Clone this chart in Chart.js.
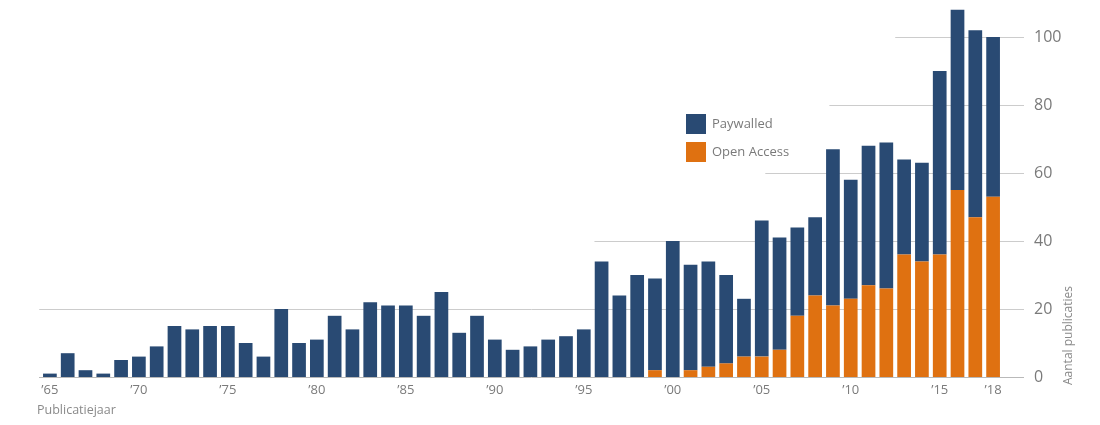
<!DOCTYPE html>
<html>
<head>
<meta charset="utf-8">
<script src="https://cdn.jsdelivr.net/npm/chart.js@4.4.1/dist/chart.umd.min.js"></script>
<style>
  html, body { margin: 0; padding: 0; background: #fff; }
  #wrap { width: 1100px; height: 425px; position: relative; }
</style>
</head>
<body>
<div id="wrap"><canvas id="chart"></canvas></div>
<script>
// --- data ---
const jaren = ['1965','1966','1967','1968','1969','1970','1971','1972','1973','1974',
  '1975','1976','1977','1978','1979','1980','1981','1982','1983','1984',
  '1985','1986','1987','1988','1989','1990','1991','1992','1993','1994',
  '1995','1996','1997','1998','1999','2000','2001','2002','2003','2004',
  '2005','2006','2007','2008','2009','2010','2011','2012','2013','2014',
  '2015','2016','2017','2018'];

const openAccess = [0,0,0,0,0,0,0,0,0,0,
  0,0,0,0,0,0,0,0,0,0,
  0,0,0,0,0,0,0,0,0,0,
  0,0,0,0,2,0,2,3,4,6,
  6,8,18,24,21,23,27,26,36,34,
  36,55,47,53];

const paywalled = [1,7,2,1,5,6,9,15,14,15,
  15,10,6,20,10,11,18,14,22,21,
  21,18,25,13,18,11,8,9,11,12,
  14,34,24,30,27,40,31,31,26,17,
  40,33,26,23,46,35,41,43,28,29,
  54,53,55,47];

const tickJaren = ['1965','1970','1975','1980','1985','1990','1995','2000','2005','2010','2015','2018'];
const tickLabels = ['\u201965','\u201970','\u201975','\u201980','\u201985','\u201990','\u201995','\u201900','\u201905','\u201910','\u201915','\u201918'];
const yTicks = [0, 20, 40, 60, 80, 100];

// --- stijl ---
const BLAUW = '#294a73';
const ORANJE = '#df7111';
const GRIJS = '#7a7a7a';
const FONT = "'Open Sans', sans-serif";
// waar elke rasterlijn links begint (fractionele index op de jaar-as)
const rasterStart = { 20: -0.6, 40: 30.6, 60: 40.2, 80: 43.8, 100: 47.5 };

const rasterPlugin = {
  id: 'raster',
  beforeDatasetsDraw(chart) {
    const { ctx, chartArea, scales: { x, y } } = chart;
    ctx.save();
    ctx.lineWidth = 1;
    yTicks.forEach(v => {
      const py = Math.round(y.getPixelForValue(v)) + 0.5;
      const x0 = v === 0 ? chartArea.left - 2 : x.getPixelForValue(rasterStart[v]);
      ctx.strokeStyle = v === 0 ? '#b9b9b9' : '#cccccc';
      ctx.beginPath();
      ctx.moveTo(x0, py);
      ctx.lineTo(chartArea.right + 22, py);
      ctx.stroke();
    });
    ctx.restore();
  },
  afterDraw(chart) {
    const { ctx } = chart;
    ctx.save();
    // legenda (Paywalled boven)
    const items = [{ t: 'Paywalled', c: BLAUW }, { t: 'Open Access', c: ORANJE }];
    items.forEach((it, i) => {
      const top = 114 + i * 28;
      ctx.fillStyle = it.c;
      ctx.fillRect(686, top, 20, 20);
      ctx.fillStyle = GRIJS;
      ctx.font = '13px ' + FONT;
      ctx.textBaseline = 'middle';
      ctx.textAlign = 'left';
      ctx.fillText(it.t, 712, top + 10);
    });
    // as-titels
    ctx.font = '12.5px ' + FONT;
    ctx.fillStyle = '#8a8a8a';
    ctx.textBaseline = 'middle';
    ctx.textAlign = 'left';
    ctx.fillText('Publicatiejaar', 37, 410);
    ctx.font = '12px ' + FONT;
    ctx.translate(1069, 385);
    ctx.rotate(-Math.PI / 2);
    ctx.fillText('Aantal publicaties', 0, 0);
    ctx.restore();
  }
};

const chart = new Chart(document.getElementById('chart'), {
  type: 'bar',
  data: {
    labels: jaren,
    datasets: [
      { label: 'Open Access', data: openAccess, backgroundColor: ORANJE },
      { label: 'Paywalled', data: paywalled, backgroundColor: BLAUW }
    ]
  },
  options: {
    responsive: true,
    maintainAspectRatio: false,
    animation: false,
    layout: { padding: { left: 41, right: 0, top: 3, bottom: 0 } },
    datasets: { bar: { categoryPercentage: 1, barPercentage: 0.77 } },
    plugins: { legend: { display: false }, tooltip: { enabled: false } },
    scales: {
      x: {
        stacked: true,
        grid: { display: false, drawTicks: false },
        border: { display: false },
        afterFit(s) { s.height = 48; s.paddingTop = 0; s.paddingBottom = 0; },
        ticks: {
          autoSkip: false,
          maxRotation: 0,
          padding: 5,
          color: GRIJS,
          font: { family: FONT, size: 13 },
          callback(val, i) {
            const k = tickJaren.indexOf(jaren[i]);
            return k >= 0 ? tickLabels[k] : '';
          }
        }
      },
      y: {
        stacked: true,
        position: 'right',
        min: 0,
        max: 110,
        grid: { display: false, drawTicks: false },
        border: { display: false },
        afterFit(s) { s.width = 98; s.paddingTop = 0; s.paddingBottom = 0; },
        afterBuildTicks(s) { s.ticks = yTicks.map(v => ({ value: v })); },
        ticks: {
          padding: 32,
          color: GRIJS,
          font: { family: FONT, size: 16 }
        }
      }
    }
  },
  plugins: [rasterPlugin]
});
</script>
</body>
</html>
